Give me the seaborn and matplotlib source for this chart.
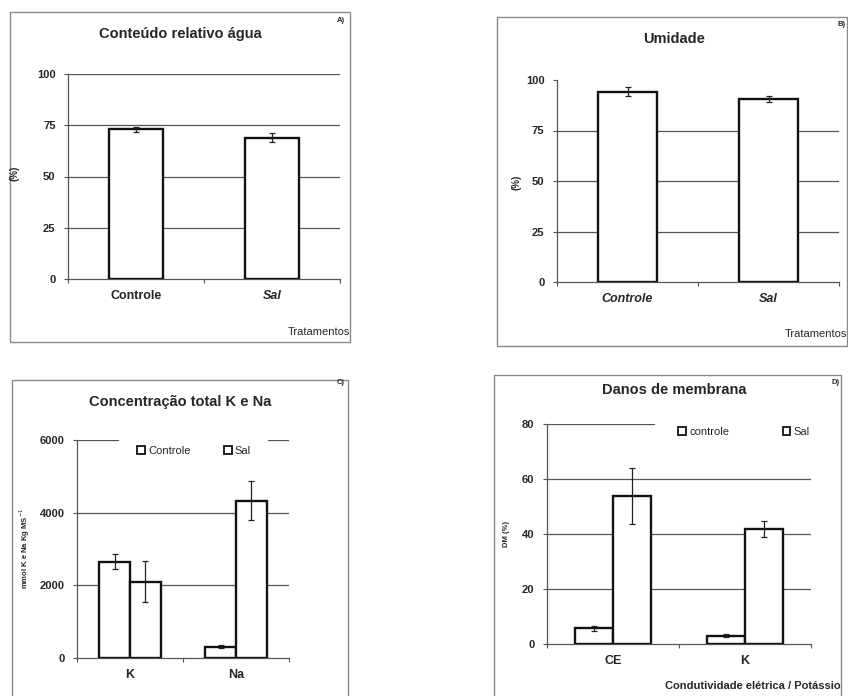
import numpy as np
import pandas as pd
import matplotlib
matplotlib.use("Agg")
import matplotlib.pyplot as plt
from matplotlib.patches import Rectangle
import seaborn as sns

# ---------------- data ----------------
treatments = ["Controle", "Sal"]
cra_values = [73.0, 68.9]
cra_err = [1.3, 2.2]
umid_values = [94.2, 90.6]
umid_err = [2.2, 1.7]

ions = ["K", "Na"]
kna_controle = [2650, 310]
kna_controle_err = [200, 40]
kna_sal = [2100, 4325]
kna_sal_err = [570, 540]

dm_cats = ["CE", "K"]
dm_legend = ["controle", "Sal"]
dm_controle = [5.7, 3.0]
dm_controle_err = [1.0, 0.5]
dm_sal = [53.8, 41.7]
dm_sal_err = [10.3, 2.9]

# ---------------- setup ----------------
sns.set_theme(style="white")
plt.rcParams['font.family'] = ['Liberation Sans', 'DejaVu Sans']
W, H = 848, 696
fig = plt.figure(figsize=(W / 100, H / 100), dpi=100)
fig.patch.set_facecolor("white")

GRID = "#555555"
FRAME = "#8a8a8a"


def ax_px(x0, y0, x1, y1):
    return fig.add_axes([x0 / W, 1 - y1 / H, (x1 - x0) / W, (y1 - y0) / H])


def frame(x0, y0, x1, y1):
    fig.patches.append(Rectangle((x0 / W, 1 - y1 / H), (x1 - x0) / W, (y1 - y0) / H,
                                 transform=fig.transFigure, fill=False,
                                 edgecolor=FRAME, lw=1.0, zorder=0))


def ftext(x, y, s, **kw):
    fig.text(x / W, 1 - y / H, s, **kw)


def style_ax(ax, ymax, yticks, grid_levels):
    ax.set_ylim(0, ymax)
    ax.set_xlim(-0.5, 1.5)
    ax.set_yticks(yticks)
    ax.set_yticklabels([str(t) for t in yticks], fontsize=8, fontweight="bold")
    ax.set_facecolor("none")
    for s in ["top", "right"]:
        ax.spines[s].set_visible(False)
    for s in ["left", "bottom"]:
        ax.spines[s].set_color(GRID)
        ax.spines[s].set_linewidth(0.9)
    for g in grid_levels:
        if isinstance(g, tuple):
            lvl, segs = g
            for a, b in segs:
                ax.axhline(lvl, xmin=a, xmax=b, color=GRID, lw=0.9, zorder=0)
        else:
            ax.axhline(g, color=GRID, lw=0.9, zorder=0)
    ax.tick_params(axis="y", length=3, width=0.8, color=GRID, pad=6, left=True)
    ax.set_xticks([-0.5, 0.5, 1.5], minor=True)
    ax.tick_params(axis="x", which="minor", length=3, width=0.8, color=GRID, bottom=True)
    ax.tick_params(axis="x", which="major", length=0, pad=8)
    ax.set_xlabel("")
    ax.set_ylabel("")


def add_errs(ax, errs_per_container):
    for cont, errs in zip(ax.containers, errs_per_container):
        for patch, e in zip(cont.patches, errs):
            xc = patch.get_x() + patch.get_width() / 2
            ax.errorbar(xc, patch.get_height(), yerr=e, color="#222222", lw=0.9,
                        capsize=2.5, capthick=0.9, zorder=5)


bar_kw = dict(color="white", edgecolor="#111111", linewidth=1.7, zorder=3)

# ---------------- Panel A ----------------
frame(10, 12, 350, 342)
axA = ax_px(68, 74, 340, 279)
dfA = pd.DataFrame({"trat": treatments, "val": cra_values})
sns.barplot(data=dfA, x="trat", y="val", ax=axA, width=0.4, errorbar=None, **bar_kw)
add_errs(axA, [cra_err])
style_ax(axA, 100, [0, 25, 50, 75, 100], [25, 50, 75, 100])
axA.set_xticks([0, 1])
axA.set_xticklabels(treatments, fontsize=9, fontweight="bold")
axA.get_xticklabels()[1].set_style("italic")
ftext(180, 34, "Conteúdo relativo água", fontsize=10.5, fontweight="bold", ha="center", va="center")
ftext(341, 20, "A)", fontsize=5.5, fontweight="bold", ha="center", va="center")
ftext(15, 173, "(%)", fontsize=7, fontweight="bold", rotation=90, ha="center", va="center")
ftext(350, 332, "Tratamentos", fontsize=8, ha="right", va="center")

# ---------------- Panel B ----------------
frame(497, 17, 847, 346)
axB = ax_px(557, 80, 839, 282)
dfB = pd.DataFrame({"trat": treatments, "val": umid_values})
sns.barplot(data=dfB, x="trat", y="val", ax=axB, width=0.42, errorbar=None, **bar_kw)
add_errs(axB, [umid_err])
style_ax(axB, 100, [0, 25, 50, 75, 100], [25, 50, 75])
axB.set_xticks([0, 1])
axB.set_xticklabels(treatments, fontsize=9, fontweight="bold", style="italic")
ftext(674, 39, "Umidade", fontsize=10.5, fontweight="bold", ha="center", va="center")
ftext(842, 25, "B)", fontsize=5.5, fontweight="bold", ha="center", va="center")
ftext(516, 182, "(%)", fontsize=7, fontweight="bold", rotation=90, ha="center", va="center")
ftext(847, 334, "Tratamentos", fontsize=8, ha="right", va="center")

# ---------------- Panel C ----------------
frame(12, 380, 348, 720)
axC = ax_px(77, 440, 289, 658)
dfC = pd.DataFrame({
    "ion": ions * 2,
    "trat": ["Controle"] * 2 + ["Sal"] * 2,
    "val": kna_controle + kna_sal,
})
sns.barplot(data=dfC, x="ion", y="val", hue="trat", ax=axC, width=0.58,
            errorbar=None, palette=["white", "white"], edgecolor="#111111",
            linewidth=1.7, zorder=3)
add_errs(axC, [kna_controle_err, kna_sal_err])
style_ax(axC, 6000, [0, 2000, 4000, 6000],
         [2000, 4000, (6000, [(0.0, 0.195), (0.90, 1.0)])])
axC.set_xticks([0, 1])
axC.set_xticklabels(ions, fontsize=9, fontweight="bold")
hC = [Rectangle((0, 0), 1, 1, facecolor="white", edgecolor="#111111", lw=1.3) for _ in range(2)]
legC = axC.legend(hC, treatments, ncol=2, loc="center", bbox_to_anchor=(194 / W, 1 - 451 / H),
                  bbox_transform=fig.transFigure, frameon=False, fontsize=8,
                  handlelength=0.7, handleheight=0.7, handletextpad=0.3,
                  columnspacing=3.0, borderpad=0.4)
ftext(180, 402, "Concentração total K e Na", fontsize=10.5, fontweight="bold", ha="center", va="center")
ftext(341, 382, "C)", fontsize=5.5, fontweight="bold", ha="center", va="center")
ftext(25, 548, "mmol K e Na Kg MS$^{-1}$", fontsize=5.5, fontweight="bold", rotation=90,
      ha="center", va="center")

# ---------------- Panel D ----------------
frame(494, 375, 841, 720)
axD = ax_px(547, 424, 811, 644)
dfD = pd.DataFrame({
    "cat": dm_cats * 2,
    "trat": ["controle"] * 2 + ["Sal"] * 2,
    "val": dm_controle + dm_sal,
})
sns.barplot(data=dfD, x="cat", y="val", hue="trat", ax=axD, width=0.58,
            errorbar=None, palette=["white", "white"], edgecolor="#111111",
            linewidth=1.7, zorder=3)
add_errs(axD, [dm_controle_err, dm_sal_err])
style_ax(axD, 80, [0, 20, 40, 60, 80], [20, 40, 60, (80, [(0.0, 0.405)])])
axD.set_xticks([0, 1])
axD.set_xticklabels(dm_cats, fontsize=9, fontweight="bold")
hD = [Rectangle((0, 0), 1, 1, facecolor="white", edgecolor="#111111", lw=1.3) for _ in range(2)]
legD = axD.legend(hD, dm_legend, ncol=2, loc="center", bbox_to_anchor=(744 / W, 1 - 432 / H),
                  bbox_transform=fig.transFigure, frameon=False, fontsize=8,
                  handlelength=0.7, handleheight=0.7, handletextpad=0.3,
                  columnspacing=4.8, borderpad=0.4)
ftext(674, 390, "Danos de membrana", fontsize=10.5, fontweight="bold", ha="center", va="center")
ftext(836, 382, "D)", fontsize=5.5, fontweight="bold", ha="center", va="center")
ftext(506, 534, "DM (%)", fontsize=5.5, fontweight="bold", rotation=90, ha="center", va="center")
ftext(841, 686, "Condutividade elétrica / Potássio", fontsize=8, fontweight="bold",
      ha="right", va="center")

fig.savefig("out.png", dpi=100, facecolor="white")
